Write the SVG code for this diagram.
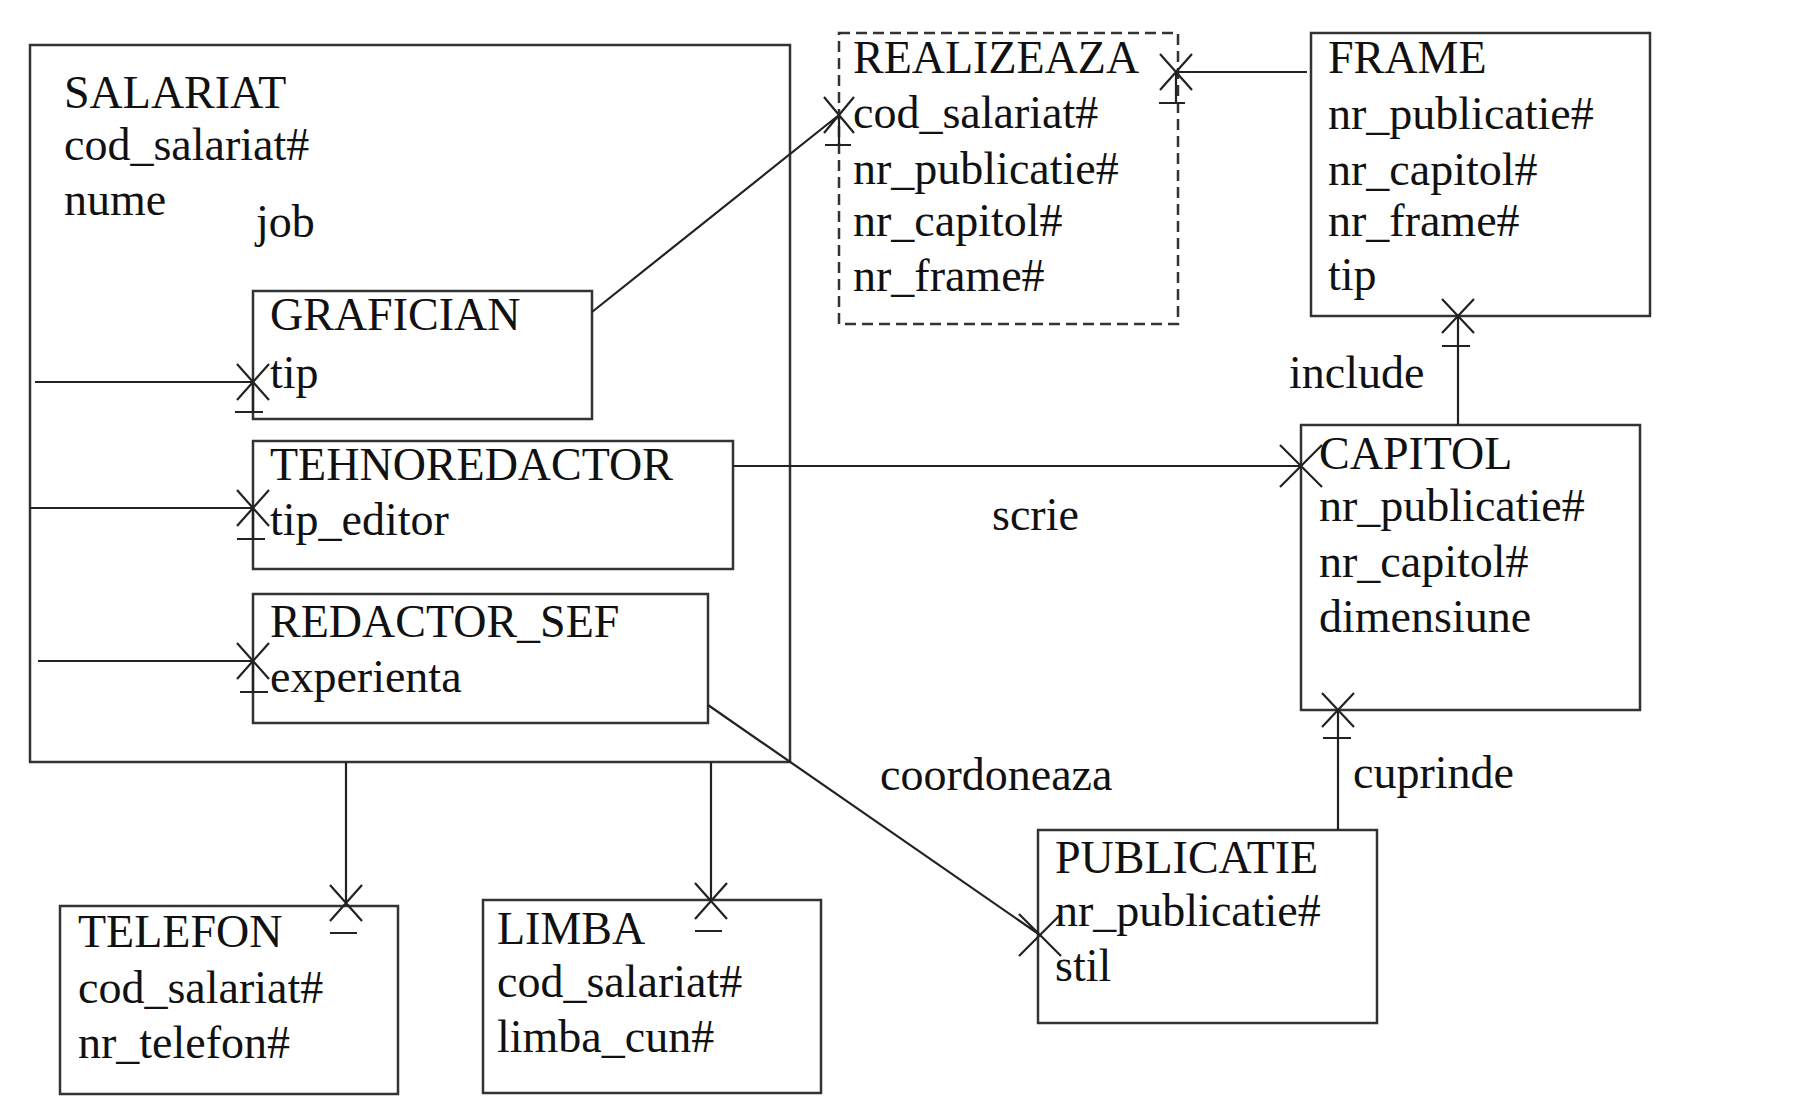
<svg xmlns="http://www.w3.org/2000/svg" width="1812" height="1118" viewBox="0 0 1812 1118">
<style>
.box{fill:none;stroke:#333;stroke-width:2.5}
.dash{stroke-dasharray:11 6}
.t{font-family:"Liberation Serif","Times New Roman",serif;font-size:46px;fill:#111}
.c{fill:none;stroke:#222;stroke-width:2.2}
</style>
<rect width="1812" height="1118" fill="#fff"/>
<g id="SALARIAT">
<rect class="box" x="30" y="45" width="760" height="717"/>
<text class="t" x="64" y="108">SALARIAT</text>
<text class="t" x="64" y="160">cod_salariat#</text>
<text class="t" x="64" y="215">nume</text>
<text class="t" x="256" y="237">job</text>
</g>
<g id="GRAFICIAN">
<rect class="box" x="253" y="291" width="339" height="128"/>
<text class="t" x="270" y="330">GRAFICIAN</text>
<text class="t" x="270" y="388">tip</text>
</g>
<g id="TEHNOREDACTOR">
<rect class="box" x="253" y="441" width="480" height="128"/>
<text class="t" x="270" y="480">TEHNOREDACTOR</text>
<text class="t" x="270" y="535">tip_editor</text>
</g>
<g id="REDACTOR_SEF">
<rect class="box" x="253" y="594" width="455" height="129"/>
<text class="t" x="270" y="637">REDACTOR_SEF</text>
<text class="t" x="270" y="692">experienta</text>
</g>
<g id="REALIZEAZA">
<rect class="box dash" x="839" y="33" width="339" height="291"/>
<text class="t" x="853" y="73">REALIZEAZA</text>
<text class="t" x="853" y="128">cod_salariat#</text>
<text class="t" x="853" y="184">nr_publicatie#</text>
<text class="t" x="853" y="236">nr_capitol#</text>
<text class="t" x="853" y="291">nr_frame#</text>
</g>
<g id="FRAME">
<rect class="box" x="1311" y="33" width="339" height="283"/>
<text class="t" x="1328" y="73">FRAME</text>
<text class="t" x="1328" y="129">nr_publicatie#</text>
<text class="t" x="1328" y="185">nr_capitol#</text>
<text class="t" x="1328" y="236">nr_frame#</text>
<text class="t" x="1328" y="290">tip</text>
</g>
<g id="CAPITOL">
<rect class="box" x="1301" y="425" width="339" height="285"/>
<text class="t" x="1319" y="469">CAPITOL</text>
<text class="t" x="1319" y="521">nr_publicatie#</text>
<text class="t" x="1319" y="577">nr_capitol#</text>
<text class="t" x="1319" y="632">dimensiune</text>
</g>
<g id="PUBLICATIE">
<rect class="box" x="1038" y="830" width="339" height="193"/>
<text class="t" x="1055" y="873">PUBLICATIE</text>
<text class="t" x="1055" y="926">nr_publicatie#</text>
<text class="t" x="1055" y="981">stil</text>
</g>
<g id="TELEFON">
<rect class="box" x="60" y="906" width="338" height="188"/>
<text class="t" x="78" y="947">TELEFON</text>
<text class="t" x="78" y="1003">cod_salariat#</text>
<text class="t" x="78" y="1058">nr_telefon#</text>
</g>
<g id="LIMBA">
<rect class="box" x="483" y="900" width="338" height="193"/>
<text class="t" x="497" y="944">LIMBA</text>
<text class="t" x="497" y="997">cod_salariat#</text>
<text class="t" x="497" y="1052">limba_cun#</text>
</g>
<g id="connectors">
<path class="c" d="M35 382H253M237 364L269 400M269 364L237 400M253 382V412M235 412H263"/>
<path class="c" d="M30 508H253M237 490L269 526M269 490L237 526M253 508V539M237 539H265"/>
<path class="c" d="M38 661H253M237 643L269 679M269 643L237 679M253 661V692M240 692H268"/>
<path class="c" d="M592 312L839 115M824 97L854 133M854 97L824 133M839 115V145M825 145H851"/>
<path class="c" d="M1307 72H1176M1160 54L1192 90M1192 54L1160 90M1176 72V103M1159 103H1185"/>
<path class="c" d="M1458 425V316M1442 299L1474 333M1474 299L1442 333M1442 346H1470"/>
<path class="c" d="M733 466H1301M1280 445L1322 487M1322 445L1280 487"/>
<path class="c" d="M1338 830V710M1322 693L1354 727M1354 693L1322 727M1323 738H1351"/>
<path class="c" d="M708 705L1040 935M1019 914L1061 956M1061 914L1019 956"/>
<path class="c" d="M346 762V903M330 885L362 921M362 885L330 921M330 933H357"/>
<path class="c" d="M711 762V901M695 883L727 919M727 883L695 919M695 931H722"/>
</g>
<g id="labels">
<text class="t" x="992" y="530">scrie</text>
<text class="t" x="1289" y="388">include</text>
<text class="t" x="1353" y="788">cuprinde</text>
<text class="t" x="880" y="790">coordoneaza</text>
</g>
</svg>
